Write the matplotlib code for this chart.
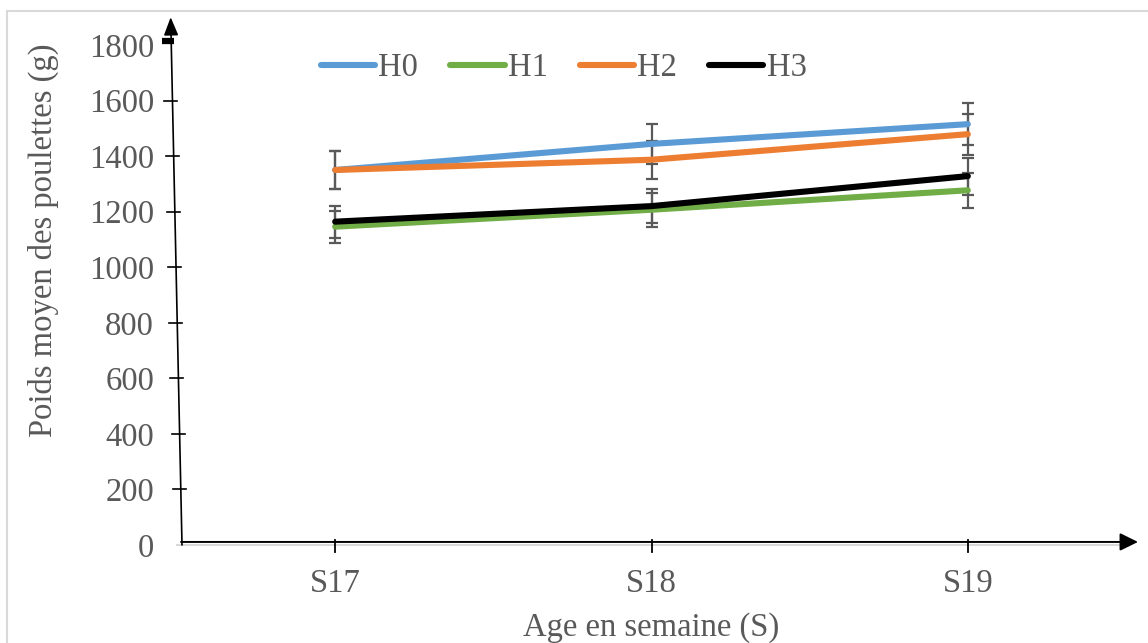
import matplotlib
matplotlib.use("Agg")
import matplotlib.pyplot as plt
import matplotlib.transforms as mtransforms
from matplotlib.patches import Rectangle

plt.rcParams['font.family'] = ['Liberation Serif', 'DejaVu Serif']

# Data
weeks = ["S17", "S18", "S19"]
series_names = ["H0", "H1", "H2", "H3"]
h0 = [1350, 1444, 1515]
h1 = [1146, 1207, 1277]
h2 = [1350, 1387, 1479]
h3 = [1164, 1220, 1328]
h0_err = [67, 72, 76]
h1_err = [58, 61, 63]
h2_err = [67, 69, 74]
h3_err = [58, 60, 67]
y_ticks = [0, 200, 400, 600, 800, 1000, 1200, 1400, 1600, 1800]

colors = ["#5B9BD5", "#70AD47", "#ED7D31", "#000000"]
text_gray = "#595959"
FS = 23.5
W, H = 1148, 643

fig = plt.figure(figsize=(W / 100, H / 100), dpi=100)
ax_left, ax_right, ax_bottom, ax_top = 177, 1126, 545, 45
ax = fig.add_axes([ax_left / W, 1 - ax_bottom / H,
                   (ax_right - ax_left) / W, (ax_bottom - ax_top) / H])

# Outer light frame
fig.patches.append(Rectangle((7 / W, -0.1), 1.2, 1 - 11 / H + 0.1,
                             transform=fig.transFigure, fill=False,
                             edgecolor="#d9d9d9", linewidth=1.5))

x = list(range(len(weeks)))
values = [h0, h1, h2, h3]
errors = [h0_err, h1_err, h2_err, h3_err]

for vals, errs in zip(values, errors):
    ax.errorbar(x, vals, yerr=errs, fmt="none", ecolor=text_gray,
                elinewidth=1.6, capsize=4.5, capthick=1.6, zorder=2)
for vals, col, name in zip(values, colors, series_names):
    ax.plot(x, vals, color=col, lw=4.4, solid_capstyle="round",
            label=name, zorder=3)

ax.set_xlim(-0.5, 2.5)
ax.set_ylim(0, 1800)
ax.set_xticks(x)
ax.set_xticklabels(weeks)
ax.set_yticks(y_ticks)
ax.tick_params(axis="both", length=0, labelsize=FS, colors=text_gray)
ax.tick_params(axis="y", pad=16.5)
ax.tick_params(axis="x", pad=17)
for s in ["top", "right", "left"]:
    ax.spines[s].set_visible(False)
ax.spines["bottom"].set_color("#d9d9d9")
ax.spines["bottom"].set_linewidth(1.5)

ax.set_ylabel("Poids moyen des poulettes (g)", fontsize=FS, color=text_gray,
              va="center")
ax.yaxis.set_label_coords((43 - ax_left) / (ax_right - ax_left), 0.61)
ax.set_xlabel("Age en semaine (S)", fontsize=FS, color=text_gray, va="center")
ax.xaxis.set_label_coords(0.5, -0.166)

leg = ax.legend(ncol=4, loc="center", bbox_to_anchor=(0.4075, 0.954),
                frameon=False, fontsize=FS, handlelength=1.66,
                handletextpad=0.1, columnspacing=0.98, borderpad=0)
for t in leg.get_texts():
    t.set_color(text_gray)

# Hand-drawn axes with arrows
span = ax_right - ax_left
def fx(px):
    return (px - ax_left) / span

blend = mtransforms.blended_transform_factory(ax.transAxes, ax.transData)
top_val = 1900
def axis_x(v):
    return fx(182 - 11 * v / 1847)

ax.annotate("", xy=(axis_x(top_val), top_val), xytext=(axis_x(0), 0),
            xycoords=blend, textcoords=blend, annotation_clip=False,
            arrowprops=dict(arrowstyle="-|>,head_length=0.55,head_width=0.22",
                            color="black", lw=1.2, mutation_scale=20,
                            shrinkA=0, shrinkB=0))
ax.annotate("", xy=(fx(1138), 11), xytext=(fx(181), 11),
            xycoords=blend, textcoords=blend, annotation_clip=False,
            arrowprops=dict(arrowstyle="-|>,head_length=0.55,head_width=0.27",
                            color="black", lw=1.4, mutation_scale=20,
                            shrinkA=0, shrinkB=0))

px = 1.0 / span
for v in y_ticks[1:-1]:
    xc = axis_x(v)
    ax.plot([xc - 8 * px, xc + 5 * px], [v, v], color="black", lw=1.2,
            transform=blend, clip_on=False, zorder=5)
xc = axis_x(1815)
ax.plot([xc - 9 * px, xc + 3 * px], [1815, 1815], color="black", lw=4.5,
        solid_capstyle="butt", transform=blend, clip_on=False, zorder=5)

for xi in x:
    ax.plot([xi, xi], [-25, 18], color="black", lw=1.3, clip_on=False, zorder=5)

fig.savefig("out.png", dpi=100)
